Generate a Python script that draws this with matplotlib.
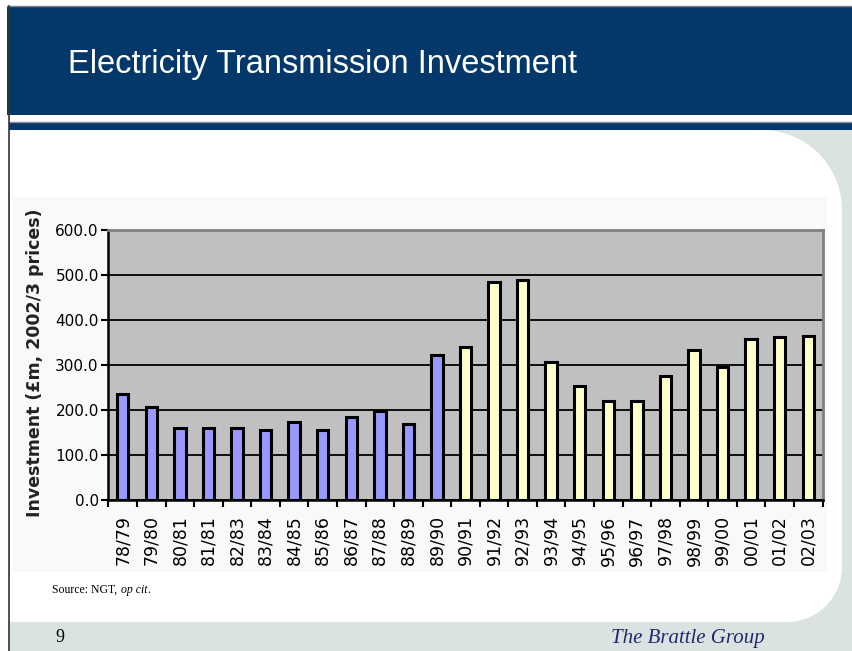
import numpy as np
import matplotlib
matplotlib.use("Agg")
import matplotlib.pyplot as plt
from matplotlib.patches import Rectangle, PathPatch
from matplotlib.path import Path

W, H = 853, 651
NAVY = "#05386a"
PALE = "#dae3e1"

years = ["78/79", "79/80", "80/81", "81/81", "82/83", "83/84", "84/85", "85/86",
         "86/87", "87/88", "88/89", "89/90", "90/91", "91/92", "92/93", "93/94",
         "94/95", "95/96", "96/97", "97/98", "98/99", "99/00", "00/01", "01/02",
         "02/03"]
investment = [236, 206, 161, 161, 161, 156, 174, 156, 184, 198, 168, 323,
              340, 485, 490, 306, 254, 219, 219, 276, 334, 296, 357, 363, 364]
# the first 12 years are drawn in blue, the rest in pale yellow
n_blue = 12
y_ticks = [0, 100, 200, 300, 400, 500, 600]


def px_box(x0, y0, x1, y1):
    # pixel box (top-left origin) -> figure fraction [left, bottom, width, height]
    return [x0 / W, 1 - y1 / H, (x1 - x0) / W, (y1 - y0) / H]


fig = plt.figure(figsize=(W / 100, H / 100), dpi=100)
fig.patch.set_facecolor("white")

# page background drawn in pixel coordinates
bg = fig.add_axes([0, 0, 1, 1])
bg.set_xlim(0, W)
bg.set_ylim(H, 0)
bg.axis("off")

bg.add_patch(Rectangle((9, 130), W - 9, H - 130, color=PALE, lw=0))

# white content area with rounded right-hand corners
r1, r2 = 80, 55
x0, x1, y0, y1 = 10, 842, 130, 622
t = np.linspace(0, np.pi / 2, 30)
verts = [(x0, y0), (x1 - r1, y0)]
verts += [(x1 - r1 + r1 * np.sin(a), y0 + r1 - r1 * np.cos(a)) for a in t]
verts += [(x1, y1 - r2)]
verts += [(x1 - r2 + r2 * np.cos(a), y1 - r2 + r2 * np.sin(a)) for a in t]
verts += [(x0, y1), (x0, y0)]
bg.add_patch(PathPatch(Path(verts), facecolor="white", lw=0))
bg.add_patch(Rectangle((13, 197), 814, 375, color="#f9f9f9", lw=0))

# header bands
bg.add_patch(Rectangle((7, 6), W - 7, 109, color=NAVY, lw=0))
bg.plot([7, W], [6, 6], color="#808080", lw=1)
bg.plot([9, W], [122, 122], color="#8c8c8c", lw=1)
bg.add_patch(Rectangle((9, 123), W - 9, 7, color=NAVY, lw=0))
bg.plot([9.5, 9.5], [6, H], color="#333333", lw=1.2)

bg.text(68, 64, "Electricity Transmission Investment", color="white",
        fontsize=23.5, family="Liberation Sans", va="center", ha="left")

bg.text(52, 590, "Source: NGT, ", fontsize=8.5, family="Liberation Serif",
        va="center", ha="left")
bg.text(121, 590, "op cit", fontsize=8.5, family="Liberation Serif",
        style="italic", va="center", ha="left")
bg.text(147, 590, ".", fontsize=8.5, family="Liberation Serif",
        va="center", ha="left")
bg.text(55, 637, "9", fontsize=13, family="Liberation Serif", va="center")
bg.text(765, 638, "The Brattle Group", fontsize=15, family="Liberation Serif",
        style="italic", color="#1f2a6b", va="center", ha="right")

# chart
ax = fig.add_axes(px_box(108.5, 230, 822.5, 500))
ax.set_facecolor("#c0c0c0")

x = np.arange(len(years))
colors = ["#9999ff"] * n_blue + ["#ffffcc"] * (len(years) - n_blue)
ax.bar(x, investment, width=0.40, color=colors, edgecolor="black",
       linewidth=2.2, zorder=3)

ax.set_xlim(-0.5, len(years) - 0.5)
ax.set_ylim(0, 600)
ax.set_yticks(y_ticks)
ax.set_yticklabels([f"{v:.1f}" for v in y_ticks])
ax.yaxis.grid(True, color="black", lw=1.3, zorder=1)
ax.set_axisbelow(True)

ax.set_xticks(x)
ax.set_xticklabels(years, rotation=90, va="top", ha="center")
ax.set_xticks(np.arange(len(years) + 1) - 0.5, minor=True)
ax.tick_params(axis="x", which="major", length=0, pad=11, labelsize=12.5)
ax.tick_params(axis="x", which="minor", length=5, width=1.5, direction="out")
ax.tick_params(axis="y", length=5, width=1.5, direction="out", pad=2,
               labelsize=11)

for side in ["top", "right"]:
    ax.spines[side].set_color("#808080")
    ax.spines[side].set_linewidth(2)
for side in ["left", "bottom"]:
    ax.spines[side].set_color("black")
    ax.spines[side].set_linewidth(1.8)

fig.text(35 / W, 1 - 363 / H, "Investment (£m, 2002/3 prices)", rotation=90,
         fontsize=12.5, fontweight="bold", color="#222222",
         ha="center", va="center")

fig.savefig("out.png", dpi=100)
